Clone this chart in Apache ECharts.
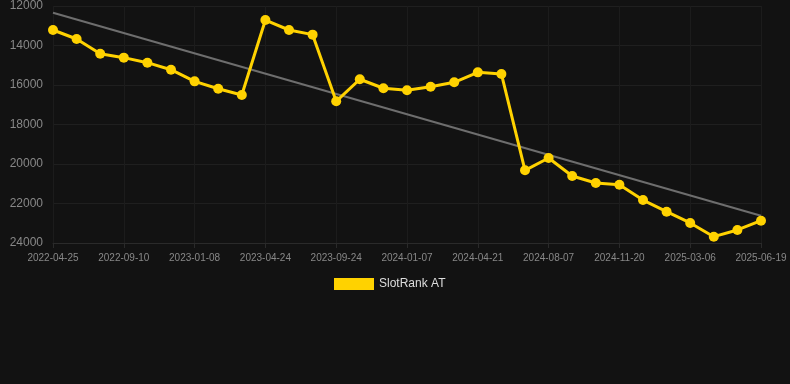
<!DOCTYPE html>
<html>
<head>
<meta charset="utf-8">
<script src="https://cdn.jsdelivr.net/npm/echarts@6/dist/echarts.min.js"></script>
<style>
html,body{margin:0;padding:0;background:#121212;}
#c{width:790px;height:384px;}
</style>
</head>
<body>
<div id="c"></div>
<script>
const dates = [
  '2022-04-25','2022-06-10','2022-07-26','2022-09-10','2022-10-20','2022-11-29',
  '2023-01-08','2023-02-12','2023-03-19','2023-04-24','2023-06-13','2023-08-03',
  '2023-09-24','2023-11-03','2023-12-12','2024-01-07','2024-02-11','2024-03-17',
  '2024-04-21','2024-05-27','2024-07-02','2024-08-07','2024-09-12','2024-10-16',
  '2024-11-20','2024-12-25','2025-01-30','2025-03-06','2025-04-10','2025-05-15',
  '2025-06-19'
];
const rankValues = [
  13215, 13670, 14415, 14615, 14870, 15225, 15815, 16190, 16505,
  12710, 13215, 13450, 16825, 15710, 16165, 16270, 16085, 15865,
  15360, 15440, 20320, 19695, 20605, 20960, 21050, 21825, 22415,
  22985, 23680, 23340, 22870
];
const trendStart = 12340;
const trendEnd = 22620;
const seriesName = 'SlotRank AT';

const trendValues = dates.map((d, i) => i === 0 ? trendStart : (i === dates.length - 1 ? trendEnd : null));

const chart = echarts.init(document.getElementById('c'));
chart.setOption({
  backgroundColor: '#121212',
  animation: false,
  grid: { left: 53, right: 29, top: 6, bottom: 141, containLabel: false },
  legend: {
    data: [seriesName],
    top: 273,
    left: 329,
    itemWidth: 40,
    itemHeight: 12,
    icon: 'rect',
    textStyle: { color: '#dddddd', fontSize: 12, fontFamily: 'Arial, Liberation Sans, sans-serif' }
  },
  xAxis: {
    type: 'category',
    data: dates,
    boundaryGap: false,
    axisLine: { lineStyle: { color: '#2a2a2a' } },
    axisTick: { show: true, alignWithLabel: true, interval: 2, lineStyle: { color: '#2a2a2a' } },
    axisLabel: { interval: 2, color: '#888888', fontSize: 10, margin: 10, fontFamily: 'Arial, Liberation Sans, sans-serif' },
    splitLine: { show: true, interval: 2, lineStyle: { color: '#1c1c1c' } }
  },
  yAxis: {
    type: 'value',
    inverse: true,
    min: 12000,
    max: 24000,
    interval: 2000,
    axisLine: { show: false },
    axisTick: { show: false },
    axisLabel: { color: '#888888', fontSize: 12, margin: 10, fontFamily: 'Arial, Liberation Sans, sans-serif', formatter: v => String(v) },
    splitLine: { show: true, lineStyle: { color: '#1f1f1f' } }
  },
  series: [
    {
      name: 'trend',
      type: 'line',
      data: trendValues,
      connectNulls: true,
      symbol: 'none',
      silent: true,
      lineStyle: { color: '#6e6e6e', width: 2 },
      z: 1
    },
    {
      name: seriesName,
      type: 'line',
      data: rankValues,
      symbol: 'circle',
      symbolSize: 10,
      itemStyle: { color: '#FFD200' },
      lineStyle: { color: '#FFD200', width: 3 },
      z: 2
    }
  ]
});
</script>
</body>
</html>
